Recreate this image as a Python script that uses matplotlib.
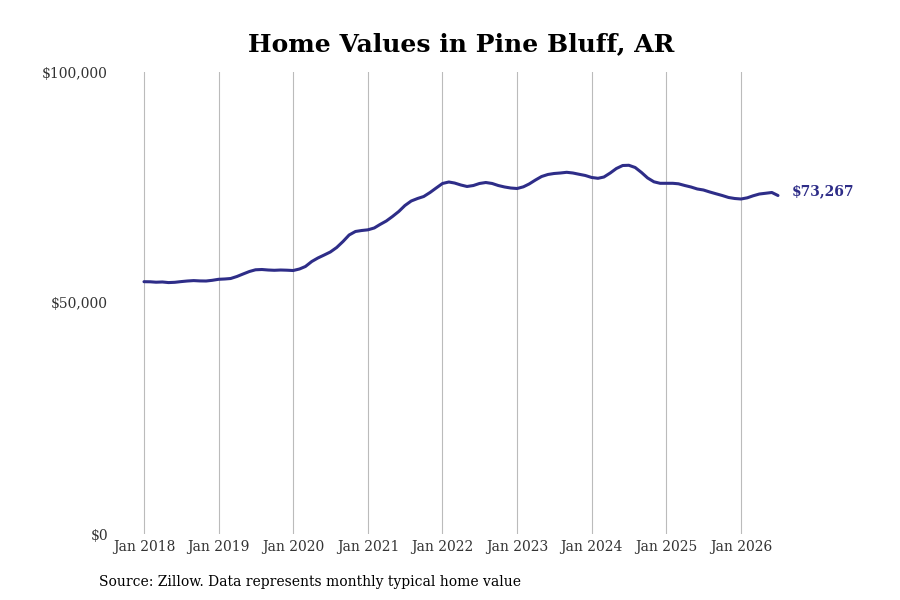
import numpy as np
import pandas as pd
import matplotlib
matplotlib.use("Agg")
import matplotlib.pyplot as plt
import matplotlib.dates as mdates

# monthly typical home value, Jan 2018 - Jul 2026
values = [
    54610, 54590, 54500, 54550, 54420, 54480, 54630, 54760, 54850, 54780, 54760, 54910,  # 2018
    55130, 55200, 55300, 55740, 56280, 56820, 57190, 57250, 57140, 57080, 57140, 57100,  # 2019
    57030, 57360, 57900, 58980, 59740, 60390, 61040, 62010, 63310, 64720, 65480, 65690,  # 2020
    65840, 66240, 66990, 67750, 68720, 69810, 71100, 72080, 72620, 73050, 73920, 74890,  # 2021
    75870, 76190, 75970, 75540, 75220, 75430, 75870, 76080, 75870, 75430, 75110, 74890,  # 2022
    74780, 75150, 75760, 76620, 77380, 77820, 78030, 78140, 78290, 78140, 77860, 77600,  # 2023
    77170, 76990, 77270, 78140, 79110, 79760, 79810, 79330, 78250, 77060, 76230, 75910,  # 2024
    75910, 75910, 75800, 75430, 75110, 74680, 74460, 74030, 73640, 73270, 72840, 72620,  # 2025
    72510, 72770, 73200, 73590, 73750, 73920, 73267,                                     # 2026
]
dates = pd.date_range("2018-01-01", periods=len(values), freq="MS")
years = list(range(2018, 2027))
year_labels = [f"Jan {y}" for y in years]
y_ticks = [0, 50000, 100000]
y_labels = ["$0", "$50,000", "$100,000"]

line_color = "#2e2d88"
plt.rcParams["font.family"] = ["DejaVu Serif"]

fig = plt.figure(figsize=(9, 6), dpi=100)
# axes placed in pixel terms: left 120, right 860, bottom 534, top 72 (from top)
ax = fig.add_axes([120 / 900, 66 / 600, 740 / 900, 462 / 600])

ax.plot(dates, values, color=line_color, linewidth=2.2, solid_capstyle="round")

# x limits so that Jan 2018 sits at x=144 px and Jan 2026 at x=741 px
d0 = mdates.date2num(pd.Timestamp("2018-01-01"))
d1 = mdates.date2num(pd.Timestamp("2026-01-01"))
ppd = (741 - 144) / (d1 - d0)
ax.set_xlim(d0 - 24 / ppd, d0 + (860 - 144) / ppd)
ax.set_ylim(0, 100000)

ax.set_xticks([pd.Timestamp(f"{y}-01-01") for y in years])
ax.set_xticklabels(year_labels, fontsize=10, color="#333333")
ax.set_yticks(y_ticks)
ax.set_yticklabels(y_labels, fontsize=10, color="#333333")
ax.tick_params(axis="both", length=0)
ax.tick_params(axis="y", pad=8.7)
ax.tick_params(axis="x", pad=4)

ax.grid(axis="x", color="#bbbbbb", linewidth=0.8)
ax.grid(axis="y", visible=False)
for s in ax.spines.values():
    s.set_visible(False)

ax.annotate(f"${values[-1]:,}", xy=(dates[-1], values[-1]), xytext=(10, 3),
            textcoords="offset points", ha="left", va="center",
            fontsize=10, fontweight="bold", color=line_color)

fig.text(461 / 900, 1 - 44 / 600, "Home Values in Pine Bluff, AR", ha="center", va="center",
         fontsize=18, fontweight="bold")
fig.text(99 / 900, 1 - 582 / 600, "Source: Zillow. Data represents monthly typical home value",
         ha="left", va="center", fontsize=10)

fig.savefig("out.png", dpi=100)
